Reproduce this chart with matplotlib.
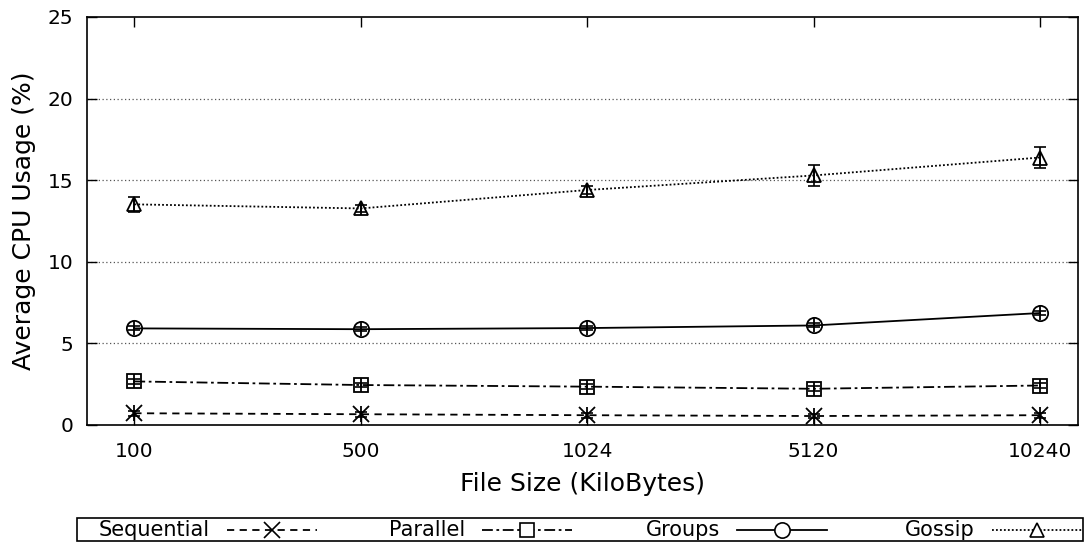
import matplotlib
matplotlib.use("Agg")
import matplotlib.pyplot as plt
from matplotlib.lines import Line2D
from matplotlib.patches import Rectangle
import numpy as np

# File sizes (KB) shown as evenly spaced categories
file_sizes = ["100", "500", "1024", "5120", "10240"]

# Average CPU usage (%) and error half-widths per strategy
sequential = [0.72, 0.66, 0.60, 0.55, 0.60]
sequential_err = [0.15, 0.15, 0.15, 0.15, 0.15]
parallel = [2.67, 2.45, 2.35, 2.22, 2.42]
parallel_err = [0.15, 0.15, 0.15, 0.15, 0.15]
groups = [5.92, 5.87, 5.94, 6.10, 6.86]
groups_err = [0.12, 0.12, 0.12, 0.12, 0.12]
gossip = [13.52, 13.27, 14.40, 15.29, 16.39]
gossip_err = [0.45, 0.22, 0.25, 0.64, 0.62]

plt.rcParams["font.family"] = ["DejaVu Sans"]

W, H = 1091, 543
fig = plt.figure(figsize=(W / 100, H / 100), dpi=100)
ax = fig.add_axes([87 / W, 1 - 425 / H, (1078 - 87) / W, (425 - 17) / H])

x = np.arange(len(file_sizes))

series = [
    ("Sequential", sequential, sequential_err, (0, (4, 3)), "x", 12, 0.0),
    ("Parallel", parallel, parallel_err, (0, (6, 2, 1.5, 2)), "s", 10, 0.0),
    ("Groups", groups, groups_err, "-", "o", 11, 0.0),
    ("Gossip", gossip, gossip_err, (0, (1, 1.2)), "^", 10.5, 0.0),
]

styles = []
for name, vals, err, ls, mk, ms, _ in series:
    ax.errorbar(x, vals, yerr=err, fmt="none", ecolor="black", elinewidth=1.2,
                capsize=4, capthick=1.2, zorder=3)
    # vertical stroke through each marker, as drawn by the error bar style
    ax.plot(x, vals, linestyle="none", marker="|", markersize=ms * 0.95,
            color="black", markeredgewidth=1.3, zorder=3)
    ax.plot(x, vals, linestyle=ls, color="black", linewidth=1.3,
            marker=mk, markersize=ms, markerfacecolor="none",
            markeredgecolor="black", markeredgewidth=1.3, zorder=4)
    styles.append((name, ls, mk, ms))

ax.set_xlim(-0.209, 4.168)
ax.set_ylim(0, 25)
ax.set_xticks(x)
ax.set_xticklabels(file_sizes)
ax.set_yticks([0, 5, 10, 15, 20, 25])

for yv in [5, 10, 15, 20]:
    ax.axhline(yv, color="#555555", linestyle=(0, (1, 2)), linewidth=0.9, zorder=1)

ax.tick_params(axis="both", direction="in", labelsize=14.5, length=7.2, width=1,
               right=True, top=True)
ax.tick_params(axis="y", pad=10)
ax.tick_params(axis="x", pad=12)
for sp in ax.spines.values():
    sp.set_linewidth(1.2)

ax.set_xlabel("File Size (KiloBytes)", fontsize=18, labelpad=8)
ax.set_ylabel("Average CPU Usage (%)", fontsize=18, labelpad=8)

# Key box below the plot: right-aligned labels followed by line samples
box_l, box_r, box_t, box_b = 77, 1083, 518, 541
fig.add_artist(Rectangle((box_l / W, 1 - box_b / H), (box_r - box_l) / W,
                         (box_b - box_t) / H, transform=fig.transFigure,
                         fill=False, edgecolor="black", linewidth=1.2))
yc = 1 - (box_t + box_b) / 2 / H
col_w = 255
text_right0 = 210
sample_len = 90
for i, (name, ls, mk, ms) in enumerate(styles):
    tr = text_right0 + i * col_w
    fig.text(tr / W, yc, name, ha="right", va="center", fontsize=15)
    s0 = tr + 17
    s1 = s0 + sample_len
    fig.add_artist(Line2D([s0 / W, s1 / W], [yc, yc], transform=fig.transFigure,
                          color="black", linestyle=ls, linewidth=1.3))
    fig.add_artist(Line2D([(s0 + s1) / 2 / W], [yc], transform=fig.transFigure,
                          linestyle="none", marker=mk, markersize=ms,
                          markerfacecolor="white", markeredgecolor="black",
                          markeredgewidth=1.2))

fig.savefig("out.png", dpi=100)
